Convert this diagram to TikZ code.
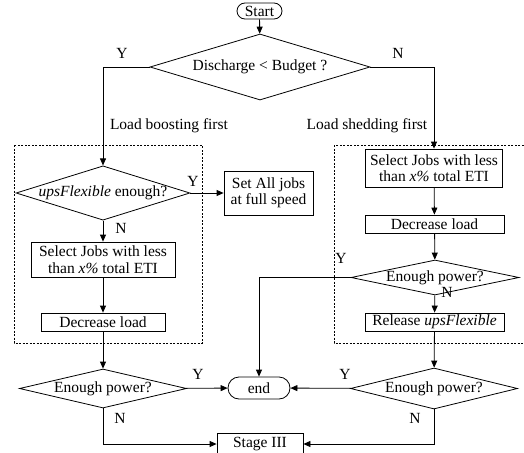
\documentclass[tikz,border=0pt]{standalone}
\usepackage{fontspec}
\setmainfont{Liberation Serif}
\usepackage{tikz}
\usetikzlibrary{arrows.meta, shapes.geometric, shapes.misc}

\begin{document}
\begin{tikzpicture}[x=1pt, y=-1pt, line width=0.8pt,
        font=\fontsize{15.5}{16.5}\selectfont,
        >={Triangle[length=7pt, width=6pt]},
        proc/.style={draw, rectangle, inner sep=0pt, align=center},
        term/.style={draw, rounded rectangle, inner sep=0pt},
        cond/.style={draw, diamond, inner sep=0pt},
        group/.style={draw, dash pattern=on 2pt off 1.5pt, line width=0.6pt}]
        \useasboundingbox (0, 0) rectangle (524, 452);
        % Groups
        \draw [group] (14, 145) rectangle (202, 343);
        \draw [group] (334, 145) rectangle (530, 343);
        % Top
        \node [term, minimum width=45, minimum height=16] (start) at (259.5, 11) {Start};
        \node [cond, shape aspect=3.3, minimum width=220, minimum height=66] (budget) at (260, 67) {Discharge < Budget ?};
        \node (boost) at (169, 126) {Load boosting first};
        \node (shed) at (367, 126) {Load shedding first};
        % Left column
        \node [cond, shape aspect=3.2, minimum width=167, minimum height=52] (flex) at (103, 193) {\textit{upsFlexible} enough?};
        \node [proc, minimum width=89, minimum height=44] (full) at (268.5, 193) {Set All jobs\\at full speed};
        \node [proc, minimum width=144, minimum height=35] (selL) at (103, 259.5) {Select Jobs with less\\than \textit{x\%} total ETI};
        \node [proc, minimum width=124, minimum height=18] (decL) at (103, 322) {Decrease load};
        \node [cond, shape aspect=4.3, minimum width=167, minimum height=39] (powL) at (103, 388.5) {Enough power?};
        % Right column
        \node [proc, minimum width=137, minimum height=38] (selR) at (434, 168) {Select Jobs with less\\than \textit{x\%} total ETI};
        \node [proc, minimum width=139, minimum height=18] (decR) at (434.5, 224) {Decrease load};
        \node [cond, shape aspect=4.8, minimum width=168, minimum height=35] (chkR) at (435, 277.5) {Enough power?};
        \node [proc, minimum width=139, minimum height=18] (rel) at (434.5, 322) {Release \textit{upsFlexible}};
        \node [cond, shape aspect=4.1, minimum width=167, minimum height=41] (powR) at (434, 388.5) {Enough power?};
        % Bottom
        \node [term, minimum width=62, minimum height=22] (end) at (259, 388) {end};
        \node [proc, minimum width=86, minimum height=22] (stage) at (260, 444) {Stage III};
        % Flow
        \draw [->] (start) -- (budget);
        \draw [->] (budget.west) -| (flex.north);
        \draw [->] (budget.east) -| (selR.north);
        \draw [->] (flex) -- (full);
        \draw [->] (flex) -- (selL);
        \draw [->] (selL) -- (decL);
        \draw [->] (decL) -- (powL);
        \draw [->] (powL) -- (end);
        \draw [->] (powL.south) |- (stage.west);
        \draw [->] (selR) -- (decR);
        \draw [->] (decR) -- (chkR);
        \draw [->] (chkR.west) -| (end.north);
        \draw [->] (chkR) -- (rel);
        \draw [->] (rel) -- (powR);
        \draw [->] (powR) -- (end);
        \draw [->] (powR.south) |- (stage.east);
        % Answers
        \node (y1) at (122, 53) {Y};
        \node (n1) at (398, 53) {N};
        \node (y2) at (193, 181) {Y};
        \node (n2) at (121, 228) {N};
        \node (y3) at (198, 374) {Y};
        \node (n3) at (120, 418) {N};
        \node (y4) at (341, 258) {Y};
        \node (n4) at (447, 292) {N};
        \node (y5) at (345, 374) {Y};
        \node (n5) at (415, 418) {N};
    \end{tikzpicture}
\end{document}
